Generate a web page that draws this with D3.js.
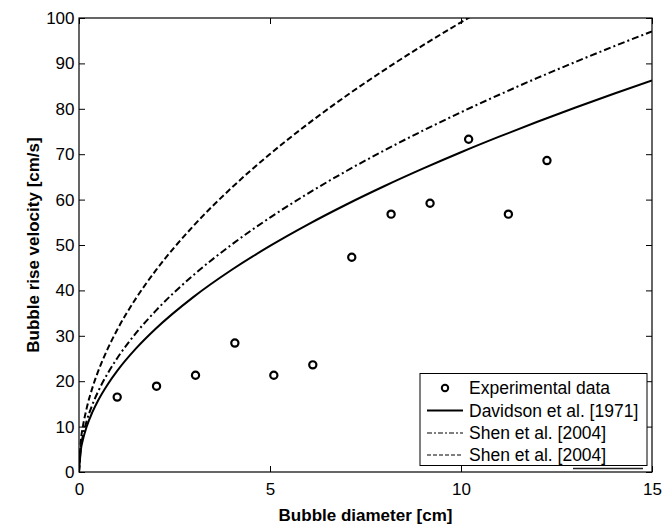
<!DOCTYPE html>
<html>
<head>
<meta charset="utf-8">
<script src="https://cdn.jsdelivr.net/npm/d3@7"></script>
<style>
  html, body { margin: 0; padding: 0; background: #fff; }
  svg { display: block; font-family: "Liberation Sans", Arial, sans-serif; }
</style>
</head>
<body>
<svg id="chart" width="663" height="524"></svg>
<script>
// Measured bubble rise velocities
const expDiameter = [1.0, 2.03, 3.05, 4.08, 5.1, 6.12, 7.14, 8.17, 9.19, 10.2, 11.24, 12.25];
const expVelocity = [16.5, 18.9, 21.3, 28.4, 21.3, 23.6, 47.3, 56.8, 59.2, 73.3, 56.8, 68.6];

// Correlation curves sampled along the diameter axis [cm]
const curveDiameter = [0, 0.05, 0.1, 0.2, 0.35, 0.5, 0.75, 1, 1.5, 2, 3, 4, 5, 6, 7, 8, 9, 10, 11, 12, 13, 14, 15];
const davidsonVelocity = [0, 4.98, 7.04, 9.96, 13.17, 15.75, 19.28, 22.27, 27.27, 31.49, 38.57, 44.54, 49.80, 54.55, 58.92, 62.99, 66.81, 70.43, 73.86, 77.14, 80.29, 83.32, 86.25];
const shenAVelocity = [0, 5.60, 7.92, 11.21, 14.82, 17.72, 21.70, 25.06, 30.69, 35.43, 43.40, 50.11, 56.03, 61.38, 66.30, 70.87, 75.17, 79.24, 83.10, 86.80, 90.34, 93.75, 97.05];
const shenBVelocity = [0, 7.00, 9.90, 14.01, 18.53, 22.15, 27.12, 31.32, 38.36, 44.29, 54.25, 62.64, 70.04, 76.72, 82.87, 88.59, 93.96, 99.05, 103.88, 108.50, 112.93, 117.19, 121.31];

const xTicks = [0, 5, 10, 15];
const yTicks = [0, 10, 20, 30, 40, 50, 60, 70, 80, 90, 100];

const legendLabels = ["Experimental data", "Davidson et al. [1971]", "Shen et al. [2004]", "Shen et al. [2004]"];

const svg = d3.select("#chart");
const plot = { left: 79, right: 652, top: 18, bottom: 472 };

const x = d3.scaleLinear().domain([0, 15]).range([plot.left, plot.right]);
const y = d3.scaleLinear().domain([0, 100]).range([plot.bottom, plot.top]);

svg.append("defs").append("clipPath").attr("id", "plot-clip")
  .append("rect")
  .attr("x", plot.left).attr("y", plot.top)
  .attr("width", plot.right - plot.left).attr("height", plot.bottom - plot.top);

// Axes with inward ticks on all four sides
const tickLen = 6;
function styleAxis(g) {
  g.select(".domain").remove();
  g.selectAll(".tick line").attr("stroke", "#000").attr("stroke-width", 1);
  g.selectAll(".tick text").attr("fill", "#000").attr("font-size", "17px");
}
svg.append("g").attr("transform", `translate(0,${plot.bottom})`)
  .call(d3.axisBottom(x).tickValues(xTicks).tickSizeInner(-tickLen).tickSizeOuter(0).tickPadding(11).tickFormat(d3.format("d")))
  .call(styleAxis);
svg.append("g").attr("transform", `translate(0,${plot.top})`)
  .call(d3.axisTop(x).tickValues(xTicks).tickSizeInner(-tickLen).tickSizeOuter(0).tickFormat(""))
  .call(styleAxis);
svg.append("g").attr("transform", `translate(${plot.left},0)`)
  .call(d3.axisLeft(y).tickValues(yTicks).tickSizeInner(-tickLen).tickSizeOuter(0).tickPadding(4.5).tickFormat(d3.format("d")))
  .call(styleAxis);
svg.append("g").attr("transform", `translate(${plot.right},0)`)
  .call(d3.axisRight(y).tickValues(yTicks).tickSizeInner(-tickLen).tickSizeOuter(0).tickFormat(""))
  .call(styleAxis);

// Frame
svg.append("rect")
  .attr("x", plot.left).attr("y", plot.top)
  .attr("width", plot.right - plot.left).attr("height", plot.bottom - plot.top)
  .attr("fill", "none").attr("stroke", "#000").attr("stroke-width", 1.2);

// Curves
const series = [
  { values: davidsonVelocity, dash: null },
  { values: shenAVelocity, dash: "7,3,2,3" },
  { values: shenBVelocity, dash: "6,3" }
];
const line = d3.line()
  .x(d => x(d[0]))
  .y(d => y(d[1]))
  .curve(d3.curveMonotoneX);

const curves = svg.append("g").attr("clip-path", "url(#plot-clip)");
series.forEach(s => {
  curves.append("path")
    .attr("d", line(curveDiameter.map((dv, i) => [dv, s.values[i]])))
    .attr("fill", "none")
    .attr("stroke", "#000")
    .attr("stroke-width", 2)
    .attr("stroke-dasharray", s.dash);
});

// Experimental points
svg.append("g").selectAll("circle")
  .data(expDiameter.map((dv, i) => [dv, expVelocity[i]]))
  .join("circle")
  .attr("cx", d => x(d[0]))
  .attr("cy", d => y(d[1]))
  .attr("r", 3.6)
  .attr("fill", "none")
  .attr("stroke", "#000")
  .attr("stroke-width", 2.2);

// Axis titles
svg.append("text")
  .attr("x", (plot.left + plot.right) / 2).attr("y", 521)
  .attr("text-anchor", "middle")
  .attr("font-size", "17px").attr("font-weight", "bold")
  .text("Bubble diameter [cm]");
svg.append("text")
  .attr("transform", `translate(39,${(plot.top + plot.bottom) / 2}) rotate(-90)`)
  .attr("text-anchor", "middle")
  .attr("font-size", "17px").attr("font-weight", "bold")
  .text("Bubble rise velocity [cm/s]");

// Legend
const legend = svg.append("g");
legend.append("rect")
  .attr("x", 420).attr("y", 373.5).attr("width", 227).attr("height", 92)
  .attr("fill", "#fff").attr("stroke", "#000").attr("stroke-width", 1);
// shadow edge under the legend box
legend.append("line")
  .attr("x1", 573).attr("x2", 643).attr("y1", 468.5).attr("y2", 468.5)
  .attr("stroke", "#222").attr("stroke-width", 1.6);
const rowY = [388, 410.5, 433, 455];
const legendDash = [null, null, "5,2,2,2", "4,2"];
legendLabels.forEach((label, i) => {
  const cy = rowY[i];
  if (i === 0) {
    legend.append("circle").attr("cx", 445).attr("cy", cy).attr("r", 3.2)
      .attr("fill", "none").attr("stroke", "#000").attr("stroke-width", 2);
  } else {
    legend.append("line")
      .attr("x1", 427).attr("x2", 463).attr("y1", cy).attr("y2", cy)
      .attr("stroke", "#000").attr("stroke-width", i === 1 ? 2 : 1.2)
      .attr("stroke-dasharray", legendDash[i]);
  }
  legend.append("text")
    .attr("x", 469).attr("y", cy).attr("dy", "0.35em")
    .attr("font-size", "17.5px")
    .text(label);
});
</script>
</body>
</html>
